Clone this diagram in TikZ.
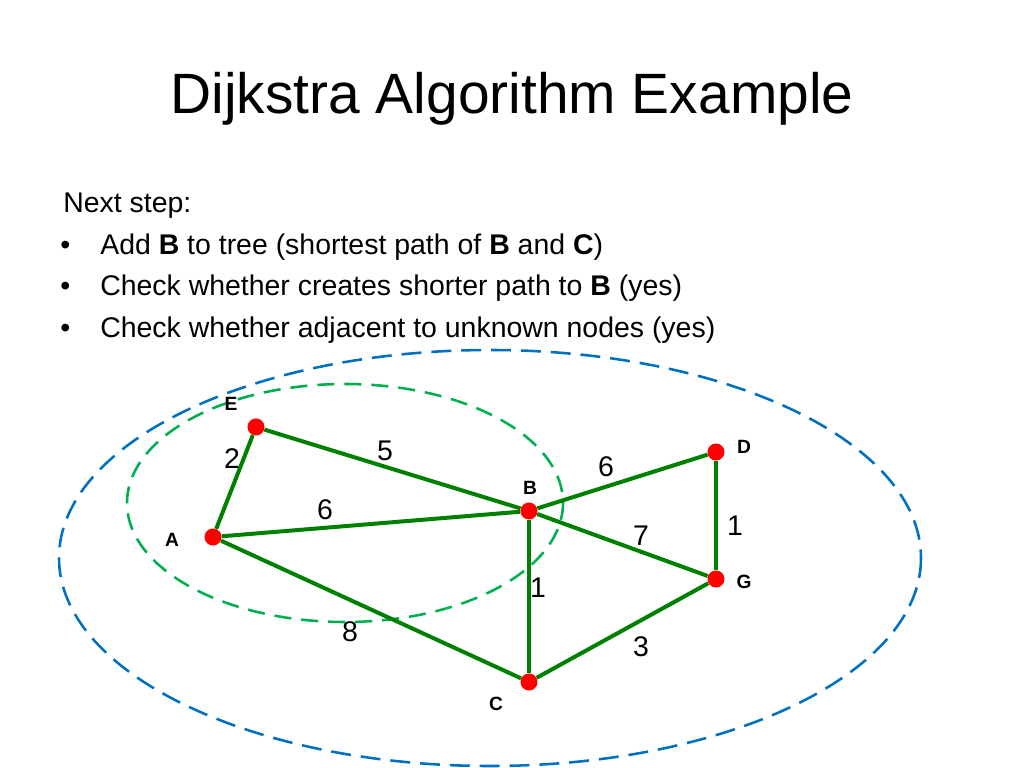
\documentclass[tikz,border=0pt]{standalone}
\usepackage{fontspec}
\setmainfont{Liberation Sans}
\usetikzlibrary{backgrounds}
\begin{document}
\begin{tikzpicture}[x=0.703125pt,y=-0.703125pt,
  vert/.style={circle,fill=red,inner sep=0pt,minimum size=12pt},
  edge/.style={draw=green!50!black,line width=2.8pt},
  vlab/.style={font=\fontsize{13.5}{16}\selectfont\bfseries},
  wlab/.style={font=\fontsize{20}{24}\selectfont},
  body/.style={font=\fontsize{20}{24}\selectfont,anchor=base west,inner sep=0pt}]
\definecolor{ringgreen}{RGB}{0,176,80}
\definecolor{ringblue}{RGB}{0,112,192}
\useasboundingbox (0,0) rectangle (1024,768);
\node[font=\fontsize{40}{48}\selectfont] (title) at (512,99) {Dijkstra Algorithm Example};
\node[body] (t0) at (63,213) {Next step:};
\node[body] (b1) at (60,255) {•};
\node[body] (t1) at (100,255) {Add \textbf{B} to tree (shortest path of \textbf{B} and \textbf{C})};
\node[body] (b2) at (60,296) {•};
\node[body] (t2) at (100,296) {Check whether creates shorter path to \textbf{B} (yes)};
\node[body] (b3) at (60,338) {•};
\node[body] (t3) at (100,338) {Check whether adjacent to unknown nodes (yes)};
\node[vert] (E) at (256,427) {};
\node[vert] (A) at (213,537) {};
\node[vert] (B) at (529,511) {};
\node[vert] (C) at (529,682) {};
\node[vert] (D) at (716,452) {};
\node[vert] (G) at (716,579) {};
\begin{scope}[on background layer]
\draw[ringblue,line width=1.8pt,dash pattern=on 14pt off 7pt] (490,558) ellipse [x radius=431, y radius=208];
\draw[ringgreen,line width=1.8pt,dash pattern=on 12pt off 7pt] (345,503) ellipse [x radius=218, y radius=119];
\draw[edge] (A) -- (E);
\draw[edge] (E) -- (B);
\draw[edge] (A) -- (B);
\draw[edge] (A) -- (C);
\draw[edge] (B) -- (C);
\draw[edge] (B) -- (D);
\draw[edge] (B) -- (G);
\draw[edge] (D) -- (G);
\draw[edge] (C) -- (G);
\end{scope}
\node[vlab] (lE) at (231,404) {E};
\node[vlab] (lA) at (172,540) {A};
\node[vlab] (lB) at (530,488) {B};
\node[vlab] (lC) at (496,704) {C};
\node[vlab] (lD) at (744,447) {D};
\node[vlab] (lG) at (744,582) {G};
\node[wlab] (wAE) at (232,459) {2};
\node[wlab] (wEB) at (385,451) {5};
\node[wlab] (wAB) at (325,510) {6};
\node[wlab] (wBD) at (606,467) {6};
\node[wlab] (wBG) at (641,536) {7};
\node[wlab] (wBC) at (538,588) {1};
\node[wlab] (wDG) at (735,526) {1};
\node[wlab] (wAC) at (350,632) {8};
\node[wlab] (wCG) at (641,647) {3};
\end{tikzpicture}
\end{document}
